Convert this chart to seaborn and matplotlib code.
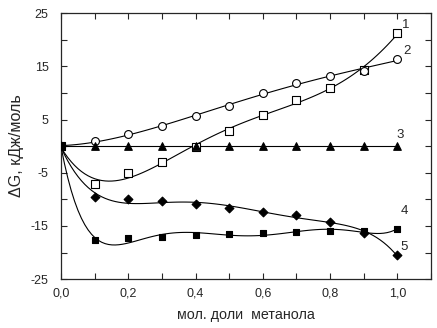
import numpy as np
import pandas as pd
import matplotlib
matplotlib.use("Agg")
import matplotlib.pyplot as plt
from matplotlib.ticker import MultipleLocator, FuncFormatter
import seaborn as sns

x_frac = [0.0, 0.1, 0.2, 0.3, 0.4, 0.5, 0.6, 0.7, 0.8, 0.9, 1.0]
s1 = [0.0, -7.1, -5.1, -2.9, -0.1, 2.8, 5.8, 8.6, 11.0, 14.4, 21.2]
s2 = [0.0, 0.9, 2.2, 3.8, 5.6, 7.6, 9.9, 11.9, 13.2, 14.2, 16.3]
s3 = [0.0, 0.0, 0.0, 0.0, 0.0, 0.0, 0.0, 0.0, 0.0, 0.0, 0.0]
s4 = [0.0, -9.6, -10.0, -10.3, -10.9, -11.7, -12.3, -13.0, -14.2, -16.4, -20.5]
s5 = [0.0, -17.7, -17.3, -17.0, -16.7, -16.5, -16.4, -16.2, -16.0, -15.9, -15.6]
labels = ["1", "2", "3", "4", "5"]
label_pos = [(1.025, 22.7), (1.03, 17.9), (1.01, 2.0), (1.02, -12.2), (1.02, -19.0)]

sns.set_style("ticks")
plt.rcParams['font.family'] = ['Liberation Sans', 'DejaVu Sans']
plt.rcParams['font.size'] = 8.5

fig = plt.figure(figsize=(4.37, 3.28), dpi=100)
ax = fig.add_axes([0.1396, 0.149, 0.8464, 0.811])

series = [s1, s2, s3, s4, s5]
orders = [5, 4, 1, 5, 6]
styles = [
    dict(marker="s", facecolor="white", edgecolor="black"),
    dict(marker="o", facecolor="white", edgecolor="black"),
    dict(marker="^", facecolor="black", edgecolor="black"),
    dict(marker="D", facecolor="black", edgecolor="black"),
    dict(marker="s", facecolor="black", edgecolor="black"),
]
sizes = [36, 32, 30, 20, 22]

for ys, order, st, sz in zip(series, orders, styles, sizes):
    df = pd.DataFrame({"x": x_frac, "y": ys})
    sns.regplot(data=df, x="x", y="y", order=order, ci=None, scatter=False,
                line_kws=dict(color="black", lw=0.8), ax=ax, truncate=True)
    sns.scatterplot(data=df, x="x", y="y", marker=st["marker"], s=sz,
                    facecolor=st["facecolor"], edgecolor=st["edgecolor"],
                    linewidth=0.8, ax=ax, zorder=3, legend=False)

for lab, (lx, ly) in zip(labels, label_pos):
    ax.text(lx, ly, lab, fontsize=9.5, ha="center", va="center")

ax.set_xlim(0, 1.1)
ax.set_ylim(-25, 25)
ax.xaxis.set_major_locator(MultipleLocator(0.2))
ax.xaxis.set_minor_locator(MultipleLocator(0.1))
ax.yaxis.set_minor_locator(MultipleLocator(5))
ax.set_yticks([-25, -15, -5, 5, 15, 25])
ax.xaxis.set_major_formatter(FuncFormatter(lambda v, p: f"{v:.1f}".replace(".", ",")))
ax.yaxis.set_major_formatter(FuncFormatter(lambda v, p: f"{v:.0f}"))
ax.tick_params(which="both", direction="in", top=True, right=True, width=0.8)
ax.tick_params(which="major", length=4, labelsize=9)
ax.tick_params(which="minor", length=4)
ax.tick_params(axis="y", which="major", pad=9)
ax.tick_params(axis="x", which="major", pad=6)
for sp in ax.spines.values():
    sp.set_linewidth(0.9)
ax.set_xlabel("мол. доли  метанола", fontsize=10.3, labelpad=6)
ax.set_ylabel("ΔG, кДж/моль", fontsize=11.5, labelpad=5)

fig.savefig("out.png", dpi=100)
